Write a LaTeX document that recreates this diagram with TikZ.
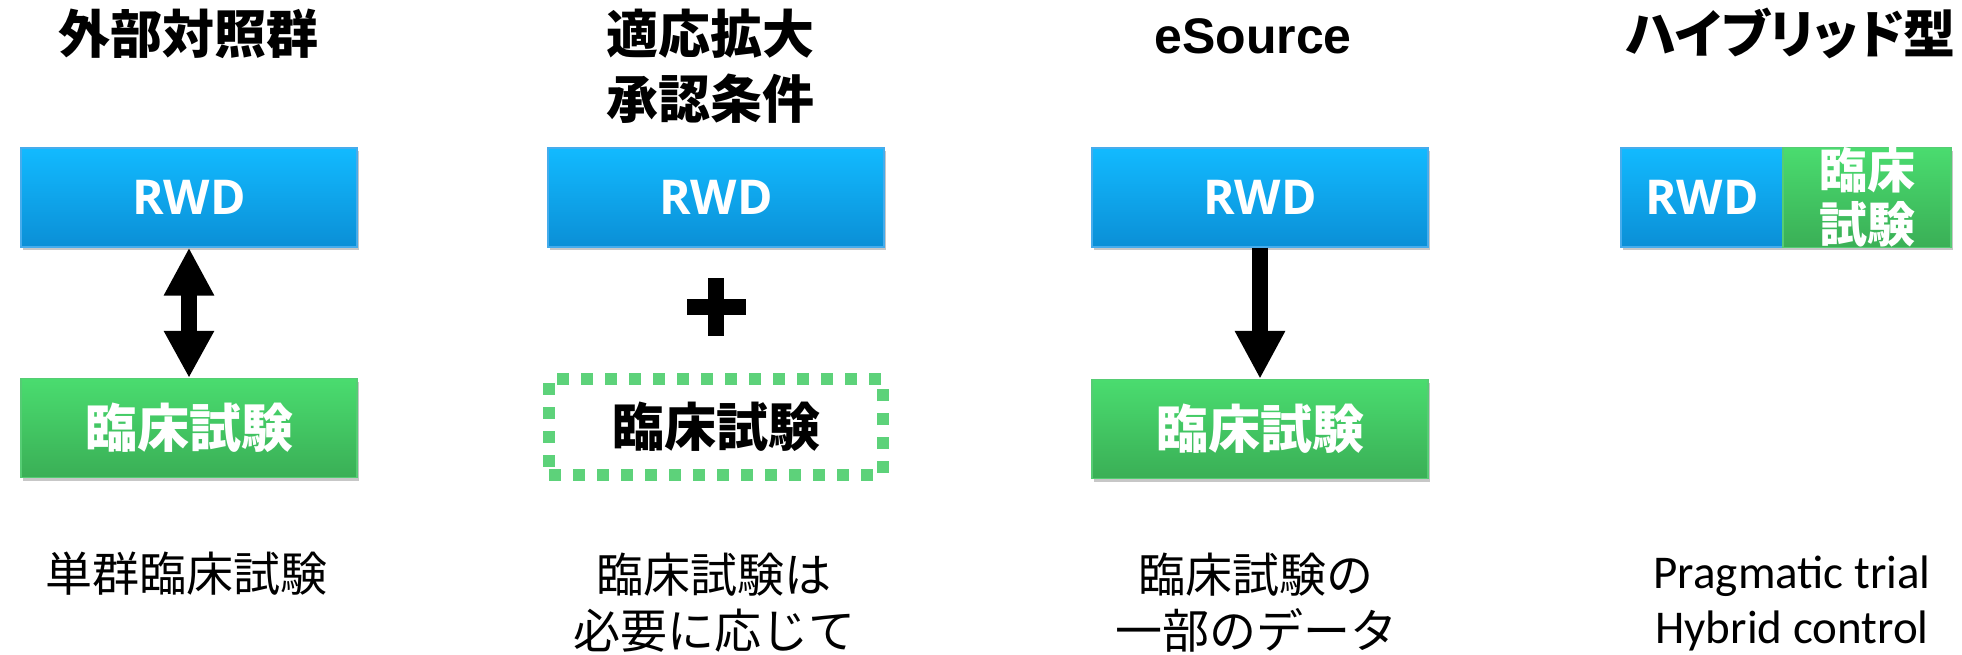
\documentclass[tikz,border=0pt]{standalone}
\usepackage{fontspec}
\usetikzlibrary{arrows.meta,shadows}
\newfontfamily\jp{Noto Sans CJK JP}
\newfontfamily\jppalt{Noto Sans CJK JP}[RawFeature=+palt]
\newfontfamily\opensans{Open Sans}
\newfontfamily\arialf{Liberation Sans}
\newfontfamily\carlito{Carlito}
\definecolor{blueT}{RGB}{18,186,255}
\definecolor{blueB}{RGB}{11,143,214}
\definecolor{blueE}{RGB}{70,172,236}
\definecolor{greenT}{RGB}{74,220,111}
\definecolor{greenB}{RGB}{58,175,86}
\definecolor{greenE}{RGB}{86,204,116}
\definecolor{dotgreen}{RGB}{93,210,122}
\tikzset{
  box/.style={rectangle, inner sep=0pt, minimum height=99pt, text=white,
    drop shadow={shadow xshift=2pt, shadow yshift=-3pt, opacity=0.22, fill=black}},
  rwdbox/.style={box, top color=blueT, bottom color=blueB, draw=blueE, line width=1.2pt,
    font=\opensans\fontsize{48}{54}\selectfont\bfseries},
  trialbox/.style={box, top color=greenT, bottom color=greenB, draw=greenE, line width=1.2pt,
    font=\jp\fontsize{52}{60}\selectfont\bfseries},
  dotbox/.style={rectangle, inner sep=0pt, minimum height=96pt, minimum width=334pt,
    draw=dotgreen, line width=12pt, dash pattern=on 12pt off 12pt,
    font=\jp\fontsize{52}{60}\selectfont\bfseries},
  title/.style={inner sep=0pt, align=center, font=\jp\fontsize{52}{65}\selectfont\bfseries},
  note/.style={inner sep=0pt, align=center, font=\jp\fontsize{47}{56}\selectfont},
  bigarrow/.style={line width=16pt, black},
}
\begin{document}
\begin{tikzpicture}[x=1pt, y=-1pt]
\useasboundingbox (0,0) rectangle (1962,654);
% titles
\node[title] (t1) at (188,34) {外部対照群};
\node[title] (t2) at (710,66) {適応拡大\\承認条件};
\node[title, font=\arialf\fontsize{50}{60}\selectfont\bfseries] (t3) at (1253,36) {eSource};
\node[title, font=\jppalt\fontsize{52}{65}\selectfont\bfseries] (t4) at (1791,33) {ハイブリッド型};
% column 1
\node[rwdbox, minimum width=336pt] (r1) at (189,197.5) {RWD};
\node[trialbox, minimum width=336pt] (g1) at (189,428) {臨床試験};
\draw[bigarrow, {Triangle[width=47pt,length=48pt]}-{Triangle[width=47pt,length=47pt]}] (r1.south) -- (g1.north);
\node[note] (n1) at (186,574) {単群臨床試験};
% column 2
\node[rwdbox, minimum width=336pt] (r2) at (716,197.5) {RWD};
\fill (708,278) rectangle (724,336);
\fill (687,299) rectangle (746,315);
\node[dotbox] (g2) at (716,427) {臨床試験};
\node[note] (n2) at (714,603) {臨床試験は\\必要に応じて};
% column 3
\node[rwdbox, minimum width=336pt] (r3) at (1260,197.5) {RWD};
\node[trialbox, minimum width=336pt] (g3) at (1260,429) {臨床試験};
\draw[bigarrow, -{Triangle[width=47pt,length=48pt]}] (r3.south) -- (g3.north);
\node[note] (n3) at (1256,603) {臨床試験の\\一部のデータ};
% column 4
\node[rwdbox, minimum width=162pt] (r4) at (1702,197.5) {RWD};
\node[trialbox, minimum width=168pt, font=\jp\fontsize{48}{54}\selectfont\bfseries, align=center] (g4) at (1867,197.5) {臨床\\試験};
\node[note, font=\carlito\fontsize{47}{55}\selectfont] (n4) at (1792,603) {Pragmatic trial\\Hybrid control};
\end{tikzpicture}
\end{document}
